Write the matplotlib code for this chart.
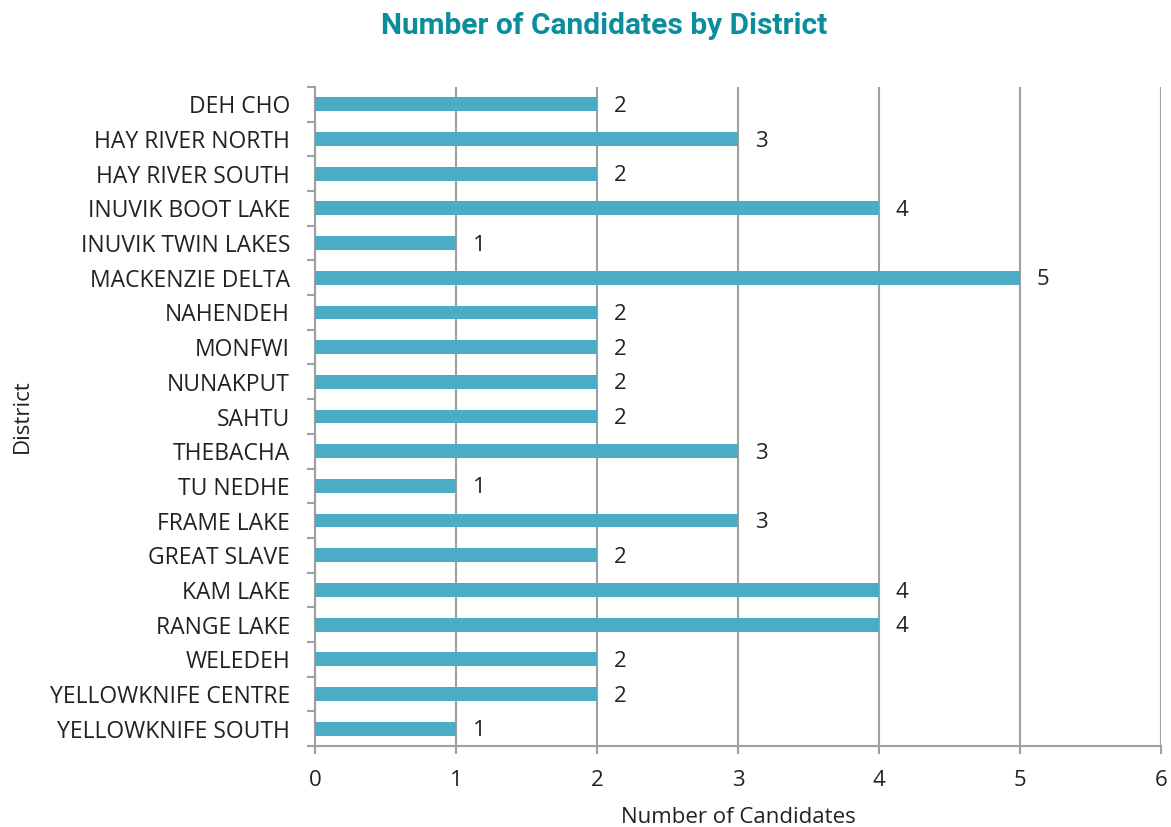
import numpy as np
import matplotlib.pyplot as plt
from matplotlib.ticker import FixedLocator

districts = ['DEH CHO', 'HAY RIVER NORTH', 'HAY RIVER SOUTH', 'INUVIK BOOT LAKE',
             'INUVIK TWIN LAKES', 'MACKENZIE DELTA', 'NAHENDEH', 'MONFWI',
             'NUNAKPUT', 'SAHTU', 'THEBACHA', 'TU NEDHE', 'FRAME LAKE',
             'GREAT SLAVE', 'KAM LAKE', 'RANGE LAKE', 'WELEDEH',
             'YELLOWKNIFE CENTRE', 'YELLOWKNIFE SOUTH']
candidates = [2, 3, 2, 4, 1, 5, 2, 2, 2, 2, 3, 1, 3, 2, 4, 4, 2, 2, 1]

plt.rcParams['font.family'] = ['Open Sans', 'DejaVu Sans']

fig = plt.figure(figsize=(11.71, 8.27), dpi=100)
ax = fig.add_axes([315/1171, 1 - 746/827, (1161 - 315)/1171, (746 - 87)/827])

y = np.arange(len(districts))
bars = ax.barh(y, candidates, height=0.4, color='#4bacc6', zorder=3)

for yi, v in zip(y, candidates):
    ax.annotate(str(v), (v, yi), xytext=(12, -1.5), textcoords='offset points',
                ha='left', va='center', fontsize=16, color='#222222')

ax.set_ylim(len(districts) - 0.5, -0.5)
ax.set_xlim(0, 6)
ax.set_yticks(y)
ax.set_yticklabels(districts, fontsize=16.5, color='#222222')
ax.tick_params(axis='y', length=0, pad=18)
ax.yaxis.set_minor_locator(FixedLocator(np.arange(-0.5, len(districts), 1)))
ax.tick_params(axis='y', which='minor', length=6, color='#a0a0a0', width=1.5)

ax.set_xticks(range(7))
ax.tick_params(axis='x', length=6, color='#a0a0a0', width=1.5, labelsize=16,
               labelcolor='#222222', pad=11)
ax.grid(axis='x', color='#a0a0a0', linewidth=1.5, zorder=0)

for s in ['top', 'right']:
    ax.spines[s].set_visible(False)
for s in ['left', 'bottom']:
    ax.spines[s].set_color('#a0a0a0')
    ax.spines[s].set_linewidth(1.5)

fig.text(0.5155, 0.968, 'Number of Candidates by District', ha='center', va='center',
         fontsize=21.5, fontweight='bold', color='#0a8e9c',
         family=['Roboto', 'DejaVu Sans'])
ax.set_xlabel('Number of Candidates', fontsize=16, color='#222222', labelpad=12)
ax.set_ylabel('District', fontsize=16, color='#222222', labelpad=12)

fig.savefig('out.png', dpi=100)
